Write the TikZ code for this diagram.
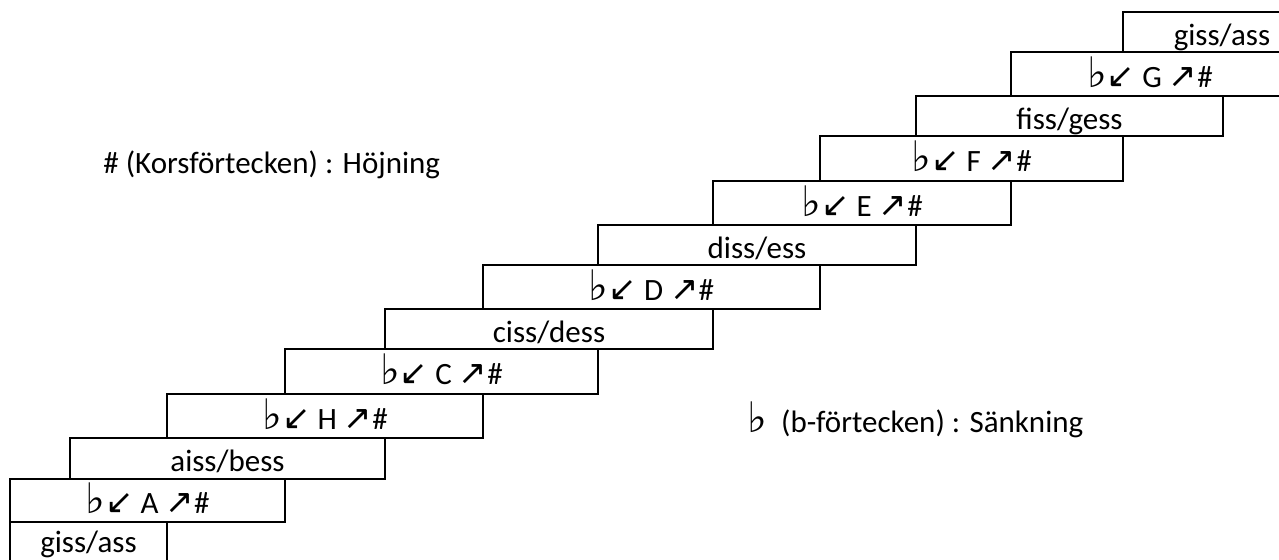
\documentclass[tikz,border=0pt]{standalone}
\usepackage{fontspec}
\setmainfont{Carlito}
\newfontfamily\symfont{DejaVu Sans}
\tikzstyle{stair} = [draw=black, line width=1.1pt, inner sep=0pt, text height=13.3pt, text depth=0pt, text centered, font=\fontsize{15.5}{18}\selectfont]
\tikzstyle{note} = [anchor=base west, inner sep=0pt, font=\fontsize{15.5}{18}\selectfont]
\newcommand{\flatsign}{{\symfont\fontsize{21}{21}\selectfont ♭}}
\newcommand{\tone}[1]{\flatsign{\symfont\fontsize{17}{17}\selectfont ↙} #1 {\symfont\fontsize{17}{17}\selectfont ↗}\#}

\begin{document}
\begin{tikzpicture}[x=0.5pt, y=-0.5pt]
\useasboundingbox (0,0) rectangle (1279,559);
\clip (0,0) rectangle (1279,559);

% the steps, from the bottom up
\node (gisbot) [stair, minimum width=157*0.5pt, minimum height=43*0.5pt, text height=10pt, text depth=1.5pt] at (88.5,543.5) {giss/ass};
\node (a) [stair, minimum width=275*0.5pt, minimum height=43*0.5pt] at (147.5,500.5) {\tone{A}};
\node (ais) [stair, minimum width=315*0.5pt, minimum height=41*0.5pt] at (227.5,458.5) {aiss/bess};
\node (h) [stair, minimum width=316*0.5pt, minimum height=44*0.5pt] at (325,416) {\tone{H}};
\node (c) [stair, minimum width=313*0.5pt, minimum height=45*0.5pt] at (441.5,371.5) {\tone{C}};
\node (cis) [stair, minimum width=328*0.5pt, minimum height=40*0.5pt] at (549,329) {ciss/dess};
\node (d) [stair, minimum width=337*0.5pt, minimum height=44*0.5pt] at (651.5,287) {\tone{D}};
\node (dis) [stair, minimum width=318*0.5pt, minimum height=40*0.5pt] at (757,245) {diss/ess};
\node (e) [stair, minimum width=298*0.5pt, minimum height=44*0.5pt] at (862,203) {\tone{E}};
\node (f) [stair, minimum width=303*0.5pt, minimum height=45*0.5pt] at (971.5,158.5) {\tone{F}};
\node (fis) [stair, minimum width=307*0.5pt, minimum height=40*0.5pt] at (1069.5,116) {fiss/gess};
\node (g) [stair, minimum width=278*0.5pt, minimum height=44*0.5pt] at (1150,74) {\tone{G}};
\node (gistop) [stair, minimum width=198*0.5pt, minimum height=40*0.5pt] at (1222,32) {giss/ass};

\node (sharp) [note] at (103,173) {\# (Korsförtecken) : Höjning};
\node (flat) [note] at (747,432) {\flatsign\ \ (b-förtecken) : Sänkning};

\end{tikzpicture}
\end{document}
